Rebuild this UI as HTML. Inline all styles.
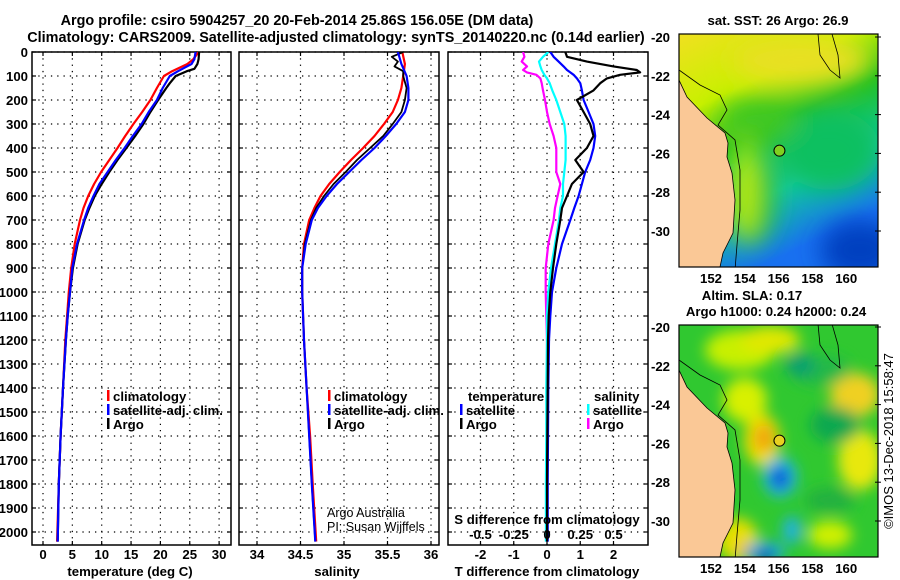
<!DOCTYPE html>
<html><head><meta charset="utf-8">
<style>
html,body{margin:0;padding:0;background:#fff;}
svg{display:block;font-family:"Liberation Sans",sans-serif;}
.b{font-weight:bold;font-size:14.4px;}
.t{font-weight:bold;font-size:13.2px;}
</style></head>
<body>
<svg id="fig" width="900" height="580" viewBox="0 0 900 580">
<defs>
<clipPath id="c1"><rect x="32" y="52" width="199" height="493"/></clipPath>
<clipPath id="c2"><rect x="239" y="52" width="200" height="493"/></clipPath>
<clipPath id="c3"><rect x="448" y="52" width="200" height="493"/></clipPath>
<clipPath id="m1c"><rect x="679" y="34" width="199" height="233"/></clipPath>
<clipPath id="m2c"><rect x="679" y="325" width="199" height="232"/></clipPath>
<filter id="bl" x="-50%" y="-50%" width="200%" height="200%"><feGaussianBlur stdDeviation="7"/></filter>
<filter id="bl2" x="-50%" y="-50%" width="200%" height="200%"><feGaussianBlur stdDeviation="12"/></filter>
<linearGradient id="sstg" x1="0" y1="0" x2="0.4" y2="1">
<stop offset="0" stop-color="#f0e020"/><stop offset="0.3" stop-color="#c8f000"/><stop offset="0.5" stop-color="#20c020"/><stop offset="0.75" stop-color="#10c8a0"/><stop offset="1" stop-color="#1870f0"/></linearGradient>
</defs>
<text class="b" x="297" y="25" text-anchor="middle">Argo profile: csiro 5904257_20 20-Feb-2014 25.86S 156.05E (DM data)</text>
<text class="b" x="336" y="42" text-anchor="middle">Climatology: CARS2009. Satellite-adjusted climatology: synTS_20140220.nc (0.14d earlier)</text>
<g id="plots"></g>
<g id="maps"></g>
</svg>
<script>
const NS="http://www.w3.org/2000/svg";
const fig=document.getElementById('plots');
function mk(tag,attrs,parent,txt){const e=document.createElementNS(NS,tag);for(const k in attrs)e.setAttribute(k,attrs[k]);if(txt!==undefined)e.textContent=txt;(parent||fig).appendChild(e);return e;}

// ---------- data ----------
const depthTicks=[0,100,200,300,400,500,600,700,800,900,1000,1100,1200,1300,1400,1500,1600,1700,1800,1900,2000];
const tempTicks=[0,5,10,15,20,25,30];
const salTicks=[34,34.5,35,35.5,36];
const tdiffTicks=[-2,-1,0,1,2];
const sdiffTickLabels=["-0.5","-0.25","0","0.25","0.5"];
const sdiffTicks=[-0.5,-0.25,0,0.25,0.5];

const argoDepth=[0,30,50,70,80,100,130,150,200,250,300,350,400,450,500,550,600,650,700,800,900,1000,1100,1200,1400,1600,1800,2040];
const argoTemp=[26.6,26.5,26.3,25.8,24.5,22.6,21.6,21.0,19.6,18.3,17.1,15.7,14.2,12.7,11.3,10.0,8.8,7.9,7.1,5.9,5.1,4.6,4.2,3.9,3.4,3.0,2.7,2.5];
const climDepth=[0,30,50,80,100,150,200,250,300,350,400,450,500,550,600,650,700,800,900,1000,1100,1200,1400,1600,1800,2040];
const climTemp=[26.5,25.6,24.6,22.0,20.6,19.4,18.3,16.9,15.4,14.0,12.7,11.3,9.9,8.7,7.7,6.9,6.3,5.4,4.8,4.4,4.1,3.8,3.4,3.0,2.7,2.4];
const satTemp=[26.0,25.8,25.3,23.0,21.6,20.4,19.4,18.0,16.8,15.3,13.9,12.4,11.0,9.6,8.6,7.7,7.0,5.8,5.0,4.6,4.2,3.9,3.4,3.0,2.7,2.5];

const argoSalDepth=[0,20,40,60,80,100,150,200,250,300,350,400,450,500,550,600,650,700,800,900,1000,1200,1400,1600,1800,2040];
const argoSal=[35.68,35.55,35.62,35.58,35.68,35.68,35.72,35.70,35.66,35.56,35.45,35.30,35.15,35.02,34.88,34.77,34.68,34.62,34.55,34.52,34.52,34.54,34.57,34.60,34.63,34.67];
const climSalDepth=[0,50,100,150,200,250,300,350,400,450,500,550,600,650,700,800,900,1000,1200,1400,1600,1800,2040];
const climSal=[35.67,35.70,35.68,35.66,35.62,35.56,35.46,35.35,35.22,35.08,34.95,34.83,34.73,34.66,34.60,34.54,34.52,34.52,34.54,34.57,34.61,34.64,34.68];
const satSal=[35.62,35.66,35.72,35.74,35.74,35.70,35.60,35.48,35.35,35.20,35.06,34.92,34.80,34.70,34.63,34.56,34.52,34.52,34.54,34.57,34.60,34.63,34.67];

const dDepth=[0,20,40,60,75,85,95,110,130,160,200,250,300,350,400,450,500,550,600,650,700,800,900,1000,1100,1200,1400,1600,1800,2040];
const tDiffArgo=[0.55,0.6,1.2,2.0,2.7,2.8,2.2,1.8,1.6,1.4,0.9,1.1,1.3,1.4,1.2,0.85,1.1,0.75,0.6,0.45,0.4,0.28,0.18,0.1,0.05,0.03,0.02,0.01,0.0,0.0];
const tDiffSat=[0.1,0.2,0.35,0.5,0.6,0.7,0.8,0.9,1.0,1.05,1.1,1.25,1.4,1.45,1.4,1.3,1.15,1.05,0.95,0.82,0.7,0.45,0.28,0.15,0.1,0.06,0.04,0.03,0.02,0.02];
const sDiffArgo=[-0.18,-0.17,-0.19,-0.15,-0.18,-0.15,-0.08,-0.05,-0.04,-0.03,-0.015,0.0,0.02,0.05,0.07,0.07,0.07,0.1,0.08,0.06,0.05,0.01,-0.01,-0.01,-0.005,0.0,0.0,0.0,-0.005,0.0];
const sDiffSat=[0.01,-0.03,-0.06,-0.05,-0.04,-0.03,-0.02,0.0,0.02,0.04,0.07,0.1,0.13,0.14,0.14,0.14,0.13,0.12,0.12,0.1,0.09,0.06,0.03,0.01,0.0,0.0,-0.005,-0.005,-0.008,-0.008];

// ---------- axes ----------
const Y=d=>52+d*0.24;
const Xt=v=>43+v*5.87;
const Xs=v=>257+(v-34)*87;
const Xd=v=>547+v*33.25;
const Xsd=v=>547+v*133;

function panel(name,x0,x1,clip,xticks,xf,labels){
  const g=mk('g',{});
  depthTicks.forEach(d=>{const l=mk('line',{x1:x0,x2:x1,y1:Y(d),y2:Y(d),stroke:'#000','stroke-width':1.2,'stroke-dasharray':'1.3,5'},g);
    mk('line',{x1:x0,x2:x0+4,y1:Y(d),y2:Y(d),stroke:'#000','stroke-width':1.2},g);mk('line',{x1:x1-4,x2:x1,y1:Y(d),y2:Y(d),stroke:'#000','stroke-width':1.2},g);});
  xticks.forEach(v=>{const l=mk('line',{x1:xf(v),x2:xf(v),y1:52,y2:545,stroke:'#000','stroke-width':1.2,'stroke-dasharray':'1.3,5'},g);
    mk('line',{x1:xf(v),x2:xf(v),y1:52,y2:56,stroke:'#000','stroke-width':1.2},g);mk('line',{x1:xf(v),x2:xf(v),y1:541,y2:545,stroke:'#000','stroke-width':1.2},g);});
  const r=mk('rect',{x:x0,y:52,width:x1-x0,height:493,fill:'none',stroke:'#000','stroke-width':1.5},g);
  
  if(labels){labels.forEach((lab,i)=>{const t=mk('text',{x:xf(xticks[i]),y:559,'text-anchor':'middle',class:'t'},g,lab);});}
  const lg=mk('g',{'clip-path':'url(#'+clip+')'},g);
  return lg;
}
function line(g,xs,ds,xf,col,w,name){
  const p=xs.map((v,i)=>xf(v).toFixed(1)+','+Y(ds[i]).toFixed(1)).join(' ');
  const e=mk('polyline',{points:p,fill:'none',stroke:col,'stroke-width':w,'stroke-linejoin':'round'},g);
  
}
depthTicks.forEach(d=>{const t=mk('text',{x:28,y:Y(d)+5,'text-anchor':'end',class:'t'},fig,String(d));});

const g1=panel('temperature-panel',32,231,'c1',tempTicks,Xt,tempTicks.map(String));
line(g1,climTemp,climDepth,Xt,'#f00',2.2,'temp-climatology-line');
line(g1,argoTemp,argoDepth,Xt,'#000',2.2,'temp-argo-line');
line(g1,satTemp,climDepth,Xt,'#00f',2.2,'temp-satellite-line');
mk('text',{x:130,y:576,'text-anchor':'middle',class:'t',},fig,'temperature (deg C)');

const g2=panel('salinity-panel',239,439,'c2',salTicks,Xs,salTicks.map(String));
line(g2,climSal,climSalDepth,Xs,'#f00',2.2,'sal-climatology-line');
line(g2,argoSal,argoSalDepth,Xs,'#000',1.8,'sal-argo-line');
line(g2,satSal,climSalDepth,Xs,'#00f',2.2,'sal-satellite-line');
mk('text',{x:337,y:576,'text-anchor':'middle',class:'t',},fig,'salinity');
mk('text',{x:327,y:517,'font-size':12.5,},fig,'Argo Australia');
mk('text',{x:327,y:531,'font-size':12.5,},fig,'PI: Susan Wijffels');

const g3=panel('difference-panel',448,648,'c3',tdiffTicks,Xd,tdiffTicks.map(String));
line(g3,sDiffArgo,dDepth,Xsd,'#f0f',2.2,'sdiff-argo-line');
line(g3,sDiffSat,dDepth,Xsd,'#0ff',2.2,'sdiff-satellite-line');
line(g3,tDiffSat,dDepth,Xd,'#00f',2.2,'tdiff-satellite-line');
line(g3,tDiffArgo,dDepth,Xd,'#000',2.2,'tdiff-argo-line');
sdiffTickLabels.forEach((lab,i)=>{const t=mk('text',{x:Xsd(sdiffTicks[i]),y:539,'text-anchor':'middle',class:'t'},fig,lab);});
mk('text',{x:547,y:524,'text-anchor':'middle',class:'t',},fig,'S difference from climatology');
mk('text',{x:547,y:576,'text-anchor':'middle',class:'t',},fig,'T difference from climatology');

function legend(x,y,items,name){
  const g=mk('g',{});
  items.forEach((it,i)=>{
    if(it[1]){mk('rect',{x:x,y:y+i*14-11,width:2.5,height:11,fill:it[1]},g);}
    mk('text',{x:x+(it[1]?6:0),y:y+i*14,class:'t'},g,it[0]);
  });
}
legend(107,401,[['climatology','#f00'],['satellite-adj. clim.','#00f'],['Argo','#000']],'temperature-legend');
legend(328,401,[['climatology','#f00'],['satellite-adj. clim.','#00f'],['Argo','#000']],'salinity-legend');
legend(468,401,[['temperature',null]],'tdiff-legend-title');
legend(460,415,[['satellite','#00f'],['Argo','#000']],'tdiff-legend');
legend(594,401,[['salinity',null]],'sdiff-legend-title');
legend(587,415,[['satellite','#0ff'],['Argo','#f0f']],'sdiff-legend');

// ---------- maps ----------
const maps=document.getElementById('maps');
const lonTicks=[152,154,156,158,160];
const latTicks=[-20,-22,-24,-26,-28,-30];
const Xlon=v=>711+(v-152)*16.9;
const coast=[[679,80],[687,97],[707,118],[725,133],[728,143],[727,157],[732,173],[735,200],[733,233],[723,253],[720,267]];
function drawMap(name,top,bottom,lat20y,clip,sst){
  const Ylat=v=>lat20y+(-20-v)*19.4;
  const g=mk('g',{},maps);
  const cg=mk('g',{'clip-path':'url(#'+clip+')'},g);
  const off=lat20y-37;
  if(sst){
    mk('rect',{x:679,y:top,width:199,height:bottom-top,fill:'url(#sstg)'},cg);
    const b=mk('g',{filter:'url(#bl2)'},cg);
    mk('ellipse',{cx:830,cy:150,rx:50,ry:40,fill:'#10c060'},b);
    mk('ellipse',{cx:760,cy:120,rx:40,ry:20,fill:'#40c820'},b);
    mk('ellipse',{cx:750,cy:200,rx:25,ry:45,fill:'#30c030'},b);
    mk('ellipse',{cx:745,cy:190,rx:12,ry:50,fill:'#c0f000'},b);
    mk('ellipse',{cx:860,cy:250,rx:40,ry:30,fill:'#0040c0'},b);
    mk('ellipse',{cx:800,cy:60,rx:70,ry:25,fill:'#e8e020'},b);
  } else {
    mk('rect',{x:679,y:top,width:199,height:bottom-top,fill:'#30c830'},cg);
    const b=mk('g',{filter:'url(#bl)'},cg);
    [[740,350,35,20,'#c8f000'],[770,340,30,14,'#e0e800'],[745,400,22,22,'#d8f000'],[855,395,25,22,'#f0d020'],[860,460,22,30,'#e8e810'],[762,440,18,26,'#f0e000'],[764,438,10,14,'#f0a010'],[738,540,20,22,'#e8e000'],[745,550,8,8,'#f0b020'],[830,535,22,14,'#d0f000'],[820,370,30,15,'#20b848'],[835,425,25,18,'#10a850'],[800,365,15,12,'#10a070'],[830,500,25,12,'#20b040']].forEach(e=>mk('ellipse',{cx:e[0],cy:e[1],rx:e[2],ry:e[3],fill:e[4]},b));
    [[780,477,17,20,'#20b8e8'],[780,478,9,11,'#0040d0'],[792,530,9,14,'#20b0e8'],[765,552,20,10,'#20a8e8'],[765,556,9,6,'#0020b0']].forEach(e=>mk('ellipse',{cx:e[0],cy:e[1],rx:e[2],ry:e[3],fill:e[4]},b));
  }
  const pts=coast.map(p=>p[0]+','+(p[1]+off)).concat([[679,bottom+20].join(','),'679,'+(top)]).join(' ');
  const land=mk('polygon',{points:pts,fill:'#fac896',stroke:'#000','stroke-width':0.8},cg);
  
  const shelf=[[679,70],[700,85],[720,95],[727,110],[718,125],[735,140],[740,170],[740,210],[737,245],[735,270]].map(p=>p[0]+','+(p[1]+off)).join(' ');
  mk('polyline',{points:shelf,fill:'none',stroke:'#000','stroke-width':0.8},cg);
  mk('polyline',{points:[[818,34],[820,55],[830,70],[840,78],[838,55],[832,34]].map(p=>p[0]+','+(p[1]+off)).join(' '),fill:'none',stroke:'#000','stroke-width':0.8},cg);
  const m=mk('circle',{cx:Xlon(156.05),cy:Ylat(-25.86),r:5.5,fill:sst?'#80d020':'#e8d020',stroke:'#000','stroke-width':1},g);
  
  mk('rect',{x:679,y:top,width:199,height:bottom-top,fill:'none',stroke:'#000','stroke-width':1.2},g);
  latTicks.forEach(v=>{
    const t=mk('text',{x:670,y:Ylat(v)+5,'text-anchor':'end',class:'t'},g,String(v));
    
    mk('line',{x1:875,x2:881,y1:Ylat(v),y2:Ylat(v),stroke:'#000'},g);
  });
  lonTicks.forEach(v=>{
    const t=mk('text',{x:Xlon(v),y:bottom+16,'text-anchor':'middle',class:'t'},g,String(v));
    
  });
}
drawMap('sst-map',34,267,37,'m1c',true);
drawMap('sla-map',325,557,327,'m2c',false);
mk('text',{x:778,y:25,'text-anchor':'middle',class:'t',},maps,'sat. SST: 26 Argo: 26.9');
mk('text',{x:752,y:300,'text-anchor':'middle',class:'t',},maps,'Altim. SLA: 0.17');
mk('text',{x:776,y:316,'text-anchor':'middle',class:'t',},maps,'Argo h1000: 0.24 h2000: 0.24');
mk('text',{x:893,y:441,'text-anchor':'middle','font-size':13,transform:'rotate(-90 893 441)',},maps,'©IMOS 13-Dec-2018 15:58:47');
</script>
</body></html>
